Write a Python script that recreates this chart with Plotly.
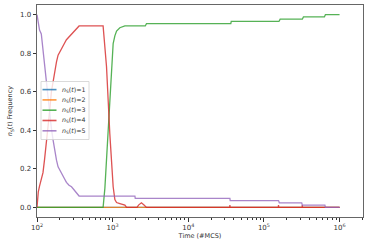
import plotly.graph_objects as go

N = 85.0
# series 1 and 2 stay at zero
t_zero = [100, 1000000]
y_zero = [0, 0]

t_s5 = [100, 104, 108, 114, 120, 126, 133, 140, 147, 155, 163, 171, 181, 190, 210, 230, 245, 265, 286, 310, 333, 360,
        1970, 1990, 35500, 35800, 156000, 160000, 316000, 322000, 640000, 650000, 1000000]
y_s5 = [1.0, 0.95, 0.92, 0.9, 0.82, 0.74, 0.64, 0.55, 0.5, 0.41, 0.35, 0.29, 0.245, 0.21, 0.175, 0.15, 0.13, 0.115, 0.107, 0.09, 0.075, 5/N,
        5/N, 4/N, 4/N, 3/N, 3/N, 2/N, 2/N, 1/N, 1/N, 0, 0]

t_s4 = [100, 104, 108, 114, 120, 126, 133, 140, 147, 155, 163, 171, 181, 190, 210, 230, 245, 265, 286, 310, 333, 360,
        748, 830, 918, 1016, 1070, 1127, 1245, 1452, 1528, 2100, 2200, 2400, 2600, 2800,
        35300, 35500, 35700, 155000, 156000, 157000, 320000, 322000, 324000, 1000000]
y_s4 = [0, 0.08, 0.11, 0.15, 0.18, 0.25, 0.33, 0.43, 0.5, 0.6, 0.65, 0.71, 0.755, 0.79, 0.825, 0.85, 0.87, 0.885, 0.895, 0.91, 0.925, 80/N,
        80/N, 0.73, 0.38, 0.107, 0.04, 0.025, 0.02, 0.012, 0, 0, 1/N, 2/N, 1/N, 0,
        0, 1/N, 0, 0, 1/N, 0, 0, 1/N, 0, 0]

t_s3 = [100, 748, 790, 830, 918, 1016, 1070, 1127, 1245, 1452, 2700, 2800, 36500, 37000, 158000, 164000, 322000, 333000,
        630000, 650000, 1000000]
y_s3 = [0, 0, 0.1, 0.26, 0.54, 0.85, 0.89, 0.915, 0.932, 80/N, 80/N, 81/N, 81/N, 82/N, 82/N, 83/N, 83/N, 84/N,
        84/N, 85/N, 85/N]

names = ["<i>n</i><sub>S</sub>(<i>t</i>)=1", "<i>n</i><sub>S</sub>(<i>t</i>)=2", "<i>n</i><sub>S</sub>(<i>t</i>)=3",
         "<i>n</i><sub>S</sub>(<i>t</i>)=4", "<i>n</i><sub>S</sub>(<i>t</i>)=5"]
colors = ["#1f77b4", "#ff7f0e", "#2ca02c", "#d62728", "#9467bd"]
series = [(t_zero, y_zero), (t_zero, y_zero), (t_s3, y_s3), (t_s4, y_s4), (t_s5, y_s5)]

x_tickvals = [100, 1000, 10000, 100000, 1000000]
x_ticktext = ["10<sup>2</sup>", "10<sup>3</sup>", "10<sup>4</sup>", "10<sup>5</sup>", "10<sup>6</sup>"]
x_minor = [m * 10 ** k for k in range(2, 7) for m in range(2, 10)]

W, H = 368, 243
ML, MR, MT, MB = 37, 5, 5, 26
PW, PH = W - ML - MR, H - MT - MB

fig = go.Figure()
for (tt, yy), nm, c in zip(series, names, colors):
    fig.add_trace(go.Scatter(x=tt, y=yy, mode="lines", name=nm,
                             line=dict(color=c, width=1.3), opacity=0.8))

# hand-made compact legend (matplotlib style), in paper coordinates
def px_x(p):
    return (p - ML) / PW

def px_y(p):
    return (H - MB - p) / PH

shapes = [dict(type="rect", xref="paper", yref="paper",
               x0=px_x(41), x1=px_x(89), y0=px_y(139.5), y1=px_y(81.5),
               line=dict(color="#d0d0d0", width=0.8), fillcolor="rgba(255,255,255,0.8)", layer="above")]
annotations = []
for i, (nm, c) in enumerate(zip(names, colors)):
    ry = 89.6 + 10.3 * i
    shapes.append(dict(type="line", xref="paper", yref="paper",
                       x0=px_x(42.5), x1=px_x(56.5), y0=px_y(ry), y1=px_y(ry),
                       line=dict(color=c, width=1.6), opacity=0.8, layer="above"))
    annotations.append(dict(xref="paper", yref="paper", x=px_x(60), y=px_y(ry),
                            xanchor="left", yanchor="middle", showarrow=False, text=nm,
                            font=dict(family="DejaVu Sans", size=6.3, color="#333")))

font = dict(family="DejaVu Sans", size=7, color="#333")
fig.update_layout(
    width=W, height=H,
    margin=dict(l=ML, r=MR, t=MT, b=MB, autoexpand=False),
    paper_bgcolor="white", plot_bgcolor="white",
    font=font,
    showlegend=False,
    shapes=shapes, annotations=annotations,
)
fig.update_xaxes(type="log", range=[2, 6.31],
                 tickvals=x_tickvals, ticktext=x_ticktext,
                 ticks="outside", ticklen=3.5, tickwidth=0.8, tickcolor="#333",
                 minor=dict(tickvals=x_minor, ticks="outside", ticklen=2, tickwidth=0.6,
                            tickcolor="#333", showgrid=False),
                 showgrid=False, zeroline=False,
                 showline=True, linecolor="#666", linewidth=1, mirror=True,
                 title=dict(text="Time (#MCS)", font=dict(size=6.5), standoff=1))
fig.update_yaxes(range=[-0.05, 1.05], tickvals=[0, 0.2, 0.4, 0.6, 0.8, 1.0], tickformat=".1f",
                 ticks="outside", ticklen=3.5, tickwidth=0.8, tickcolor="#333",
                 showgrid=False, zeroline=False,
                 showline=True, linecolor="#666", linewidth=1, mirror=True,
                 title=dict(text="<i>n</i><sub>S</sub>(<i>t</i>) Frequency", font=dict(size=6.5), standoff=6))

fig.write_html("out.html", config={"displayModeBar": False},
               post_script="document.body.style.margin='0';document.body.style.overflow='hidden';")
